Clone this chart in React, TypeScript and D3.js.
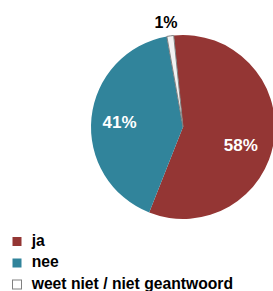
import React from "react";
import * as d3 from "d3";

const categories = ["ja", "nee", "weet niet / niet geantwoord"];
const values = [57.6, 41.2, 1.2];
const labels = ["58%", "41%", "1%"];
const colors = ["#943634", "#31849B", "#F2F2F2"];

export default function App() {
  const W = 273, H = 291;
  const cx = 183, cy = 127, r = 92;
  const start = (-5.8 * Math.PI) / 180;
  const pie = d3.pie<number>().sort(null).startAngle(start).endAngle(start + 2 * Math.PI);
  const arcs = pie(values);
  const arc = d3.arc<d3.PieArcDatum<number>>().innerRadius(0).outerRadius(r);
  const labelPos = [
    [240.8, 151, "#fff", 17],
    [119.5, 127.7, "#fff", 17],
    [166, 27.7, "#000", 16],
  ] as const;
  return (
    <svg width={W} height={H} style={{ position: "absolute", left: 0, top: 0 }}
      fontFamily="'Liberation Sans', Arial, sans-serif">
      <g transform={`translate(${cx},${cy})`}>
        {arcs.map((a, i) => (
          <path key={i} d={arc(a) || ""} fill={colors[i]}
            stroke={i === 2 ? "#808080" : "none"} strokeWidth={1} />
        ))}
      </g>
      {labels.map((l, i) => (
        <text key={i} x={labelPos[i][0]} y={labelPos[i][1]} textAnchor="middle"
          fontSize={labelPos[i][3]} fontWeight="bold" fill={labelPos[i][2]}>{l}</text>
      ))}
      {categories.map((c, i) => (
        <g key={c} transform={`translate(12,${245.5 + i * 21.5})`}>
          <rect x={0.5} y={-8.5} width={9} height={9} fill={colors[i] === "#F2F2F2" ? "#fff" : colors[i]}
            stroke={i === 2 ? "#808080" : "none"} />
          <text x={19.7} y={0} fontSize={15.7} fontWeight="bold" fill="#000">{c}</text>
        </g>
      ))}
    </svg>
  );
}
